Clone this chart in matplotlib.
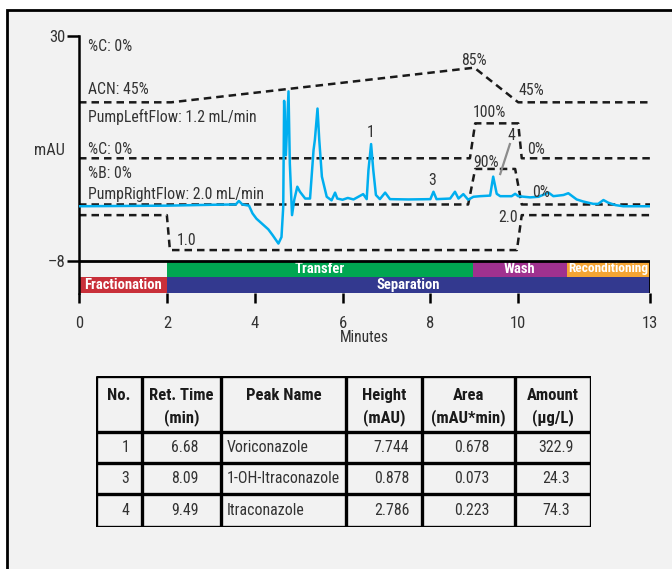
import matplotlib
matplotlib.use('Agg')
import matplotlib.pyplot as plt
from matplotlib.patches import Rectangle

plt.rcParams['font.family'] = ['Roboto Condensed', 'Liberation Sans Narrow', 'Liberation Sans', 'DejaVu Sans']

TXT = '#333333'
BLUE = '#00aeef'

# chromatogram trace (minutes, plot units)
trace_t = [0.0, 1.0, 2.0, 3.03, 3.57, 3.64, 3.72, 3.87, 3.95, 4.04, 4.31, 4.41, 4.54, 4.61,
           4.65, 4.67, 4.71, 4.77, 4.80, 4.85, 4.90, 4.97, 5.03, 5.15, 5.26, 5.34, 5.37, 5.43,
           5.47, 5.53, 5.64, 5.75, 5.83, 5.88, 6.0, 6.12, 6.25, 6.47, 6.55, 6.59, 6.65, 6.70,
           6.76, 6.85, 6.97, 7.08, 7.5, 8.0, 8.07, 8.14, 8.45, 8.56, 8.64, 8.75, 8.86, 8.98,
           9.13, 9.36, 9.43, 9.51, 9.59, 9.85, 9.93, 10.0, 10.27, 10.46, 10.69, 10.80, 11.03,
           11.14, 11.33, 11.48, 11.71, 11.82, 11.94, 12.05, 12.21, 12.39, 13.0]
trace_y = [1.2, 1.25, 1.3, 1.45, 1.5, 2.1, 1.5, 1.3, 0.0, -0.9, -2.7, -3.7, -5.1, -4.0,
           1.1, 19.0, 9.8, 20.6, 8.4, -0.3, 2.25, 4.5, 3.65, 2.5, 2.5, 10.7, 12.4, 17.7,
           12.4, 6.2, 2.8, 2.2, 3.5, 2.5, 2.3, 2.6, 2.35, 3.25, 2.4, 7.3, 11.7, 7.3,
           3.1, 2.4, 3.5, 2.4, 2.35, 2.4, 3.65, 2.4, 2.5, 3.65, 2.5, 3.25, 2.3, 2.8,
           2.9, 3.0, 6.2, 3.3, 2.9, 2.9, 3.3, 2.9, 2.7, 2.8, 3.5, 2.9, 3.1,
           3.4, 2.35, 2.0, 1.6, 1.6, 2.25, 1.8, 1.4, 1.2, 1.2]

# gradient / flow programs drawn as dashed lines (plot units)
acn_t = [0, 2.1, 9.0, 10.0, 13]
acn_y = [18.75, 18.75, 24.6, 18.75, 18.75]
pctc_t = [0, 8.9, 9.02, 10.0, 10.08, 13]
pctc_y = [9.3, 9.3, 15.2, 15.2, 9.3, 9.3]
pctb_t = [0, 8.86, 9.02, 9.93, 10.08, 13]
pctb_y = [1.5, 1.5, 7.5, 7.5, 1.5, 1.5]
flow_t = [0, 2.0, 2.07, 9.97, 10.08, 13]
flow_y = [-0.3, -0.3, -6.2, -6.2, -0.3, -0.3]

# program annotations: (text, x, y baseline)
notes = [
    ('%C: 0%', 0.2, 27.47),
    ('ACN: 45%', 0.2, 20.15),
    ('PumpLeftFlow: 1.2 mL/min', 0.2, 15.47),
    ('%C: 0%', 0.2, 9.97),
    ('%B: 0%', 0.2, 6.0),
    ('PumpRightFlow: 2.0 mL/min', 0.2, 2.36),
    ('1.0', 2.23, -5.36),
    ('85%', 8.71, 25.05),
    ('45%', 10.0, 19.98),
    ('100%', 8.96, 16.2),
    ('0%', 10.21, 9.97),
    ('90%', 8.98, 7.87),
    ('0%', 10.31, 2.8),
    ('2.0', 9.55, -1.42),
]

peak_labels = ['1', '3', '4']
peak_lx = [6.64, 8.05, 9.84]
peak_ly = [12.84, 4.78, 12.38]

# method phases
top_names = ['Transfer', 'Wash', 'Reconditioning']
top_start = [2.0, 8.97, 11.1]
top_end = [8.97, 11.1, 13.0]
top_colors = ['#00a651', '#a0318f', '#f5a533']
bot_names = ['Fractionation', 'Separation']
bot_start = [0.0, 2.0]
bot_end = [2.0, 13.0]
bot_colors = ['#c9303a', '#33398f']

# results table
headers = [['No.', ''], ['Ret. Time', '(min)'], ['Peak Name', ''], ['Height', '(mAU)'],
           ['Area', '(mAU*min)'], ['Amount', '(μg/L)']]
peak_no = ['1', '3', '4']
ret_time = ['6.68', '8.09', '9.49']
peak_name = ['Voriconazole', '1-OH-Itraconazole', 'Itraconazole']
height = ['7.744', '0.878', '2.786']
area = ['0.678', '0.073', '0.223']
amount = ['322.9', '24.3', '74.3']

fig = plt.figure(figsize=(6.72, 5.69), dpi=100)
fig.patch.set_facecolor('white')
fig.add_artist(Rectangle((7 / 672, -0.05), 1.05, 1 - 10 / 569 + 0.05, transform=fig.transFigure,
                         facecolor='#f2f2f2', edgecolor='black', lw=2, zorder=-5))

ax = fig.add_axes([79 / 672, 1 - 293.3 / 569, 571 / 672, (293.3 - 35.7) / 569])
ax.set_facecolor('none')
ax.set_xlim(0, 13)
ax.set_ylim(-13.5, 30)

for t, y in [(acn_t, acn_y), (pctc_t, pctc_y), (pctb_t, pctb_y), (flow_t, flow_y)]:
    ax.plot(t, y, color='#1a1a1a', lw=1.8, dashes=(3, 2), zorder=2)

ax.plot(trace_t, trace_y, color=BLUE, lw=1.8, zorder=3, solid_joinstyle='round')

for txt, x, y in notes:
    ax.text(x, y, txt, ha='left', va='baseline', fontsize=11.3, color=TXT, zorder=4)
for txt, x, y in zip(peak_labels, peak_lx, peak_ly):
    ax.text(x, y, txt, ha='center', va='baseline', fontsize=11.3, color=TXT, zorder=4)
ax.plot([9.81, 9.59], [11.7, 6.64], color='#8c8c8c', lw=1.6, zorder=4)

# phase bars
row_h = 2.75
bar_fs = {'Reconditioning': 9.6}
for n, s, e, c in zip(top_names, top_start, top_end, top_colors):
    ax.bar(s, row_h, width=e - s, bottom=-8 - row_h, align='edge', color=c, lw=0, zorder=2)
    ax.text((s + e) / 2, -8 - row_h / 2, n, color='white', fontweight='bold',
            fontsize=bar_fs.get(n, 10.5), ha='center', va='center', zorder=3)
for n, s, e, c in zip(bot_names, bot_start, bot_end, bot_colors):
    ax.bar(s, row_h, width=e - s, bottom=-8 - 2 * row_h, align='edge', color=c, lw=0, zorder=2)
    ax.text((s + e) / 2, -8 - 1.5 * row_h, n, color='white', fontweight='bold',
            fontsize=bar_fs.get(n, 10.5), ha='center', va='center', zorder=3)
ax.axhline(-8, color='black', lw=2, zorder=4)
ax.vlines(max(top_end), -8 - 2 * row_h, -8, color='black', lw=2, zorder=4)

for sp in ['top', 'right', 'bottom']:
    ax.spines[sp].set_visible(False)
ax.spines['left'].set_linewidth(1.8)
ax.set_xticks([0, 2, 4, 6, 8, 10, 13])
ax.set_yticks([30, -8], ['30', '\u2013' + '8'])
ax.tick_params(axis='x', direction='out', length=7, width=1.8, labelsize=12,
               labelcolor=TXT, pad=9.5)
ax.tick_params(axis='y', direction='out', length=8.5, width=1.8, labelsize=12,
               labelcolor=TXT, pad=1)
ax.set_xlabel('Minutes', fontsize=11.2, color=TXT, labelpad=-1)
ax.set_ylabel('mAU', rotation=0, fontsize=11.7, color=TXT, ha='center', va='center')
ax.yaxis.set_label_coords(-0.051, 0.554)

# table
col_w = [46.6, 78.4, 125.3, 76.3, 92.7, 75.7]
row_hs = [56, 31, 31.6, 32.4]
tax = fig.add_axes([95.7 / 672, 1 - 526.7 / 569, sum(col_w) / 672, sum(row_hs) / 569])
tax.set_xlim(0, sum(col_w))
tax.set_ylim(sum(row_hs), 0)
tax.axis('off')
xe = [0]
for w in col_w:
    xe.append(xe[-1] + w)
ye = [0]
for h in row_hs:
    ye.append(ye[-1] + h)
tax.hlines(ye, 0, xe[-1], color='black', lw=2.4)
tax.vlines(xe, 0, ye[-1], color='black', lw=2.4)
for i, (l1, l2) in enumerate(headers):
    cx = (xe[i] + xe[i + 1]) / 2
    tax.text(cx, 19.3, l1, ha='center', va='center', fontsize=12, fontweight='bold', color='#1a1a1a')
    if l2:
        tax.text(cx, 41.6, l2, ha='center', va='center', fontsize=12, fontweight='bold', color='#1a1a1a')
cols = [peak_no, ret_time, peak_name, height, area, amount]
aligns = ['right', 'center', 'left', 'right', 'center', 'center']
for j, col in enumerate(cols):
    for r, val in enumerate(col):
        cy = (ye[r + 1] + ye[r + 2]) / 2
        if aligns[j] == 'right':
            x, ha = xe[j + 1] - 13, 'right'
        elif aligns[j] == 'left':
            x, ha = xe[j] + 6, 'left'
        else:
            x, ha = (xe[j] + xe[j + 1]) / 2 + 3, 'center'
        tax.text(x, cy, val, ha=ha, va='center', fontsize=11.4, color=TXT)

fig.savefig('out.png', dpi=100)
